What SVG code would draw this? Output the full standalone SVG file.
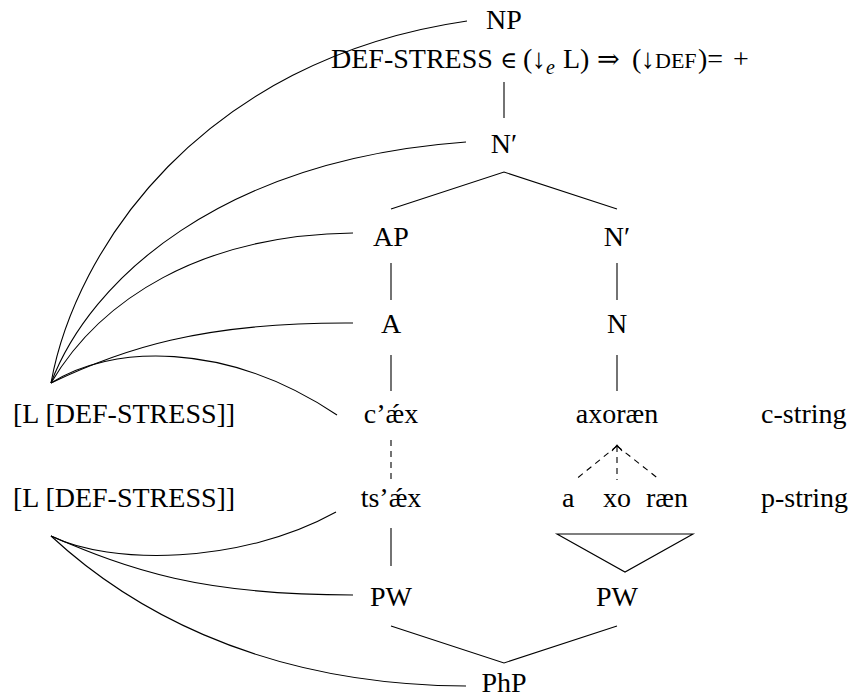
<svg xmlns="http://www.w3.org/2000/svg" width="852" height="699" viewBox="0 0 852 699">
<style>
text{font-family:"Liberation Serif","Times New Roman","DejaVu Serif",serif;font-size:28px;fill:#000}
.m{text-anchor:middle}
.ln{fill:none;stroke:#000;stroke-width:1.1}
.d{stroke-dasharray:6,5}
.sc{font-size:22px}
.sub{font-style:italic;font-size:20px}
</style>
<rect width="852" height="699" fill="#fff"/>
<g id="connectors">
<line class="ln" x1="504" y1="82" x2="504" y2="118"/>
<polyline class="ln" points="391,209 504,172 617,209"/>
<line class="ln" x1="391" y1="263" x2="391" y2="300"/>
<line class="ln" x1="617" y1="263" x2="617" y2="300"/>
<line class="ln" x1="391" y1="355" x2="391" y2="391"/>
<line class="ln" x1="617" y1="355" x2="617" y2="391"/>
<line class="ln d" x1="391" y1="440" x2="391" y2="482"/>
<line class="ln d" x1="617" y1="446" x2="575" y2="480"/>
<line class="ln d" x1="617" y1="446" x2="617" y2="480"/>
<line class="ln d" x1="617" y1="446" x2="660" y2="480"/>
<polyline class="ln" points="612,451 617,445 622,451"/>
<line class="ln" x1="391" y1="528" x2="391" y2="566"/>
<polygon class="ln" points="557,534 693,534 625,572"/>
<polyline class="ln" points="391,626 504,663 617,626"/>
<path class="ln" d="M51,383 C75,250 200,60 467,21"/>
<path class="ln" d="M51,383 C90,280 220,160 466,142"/>
<path class="ln" d="M51,383 C100,300 200,235 353,233"/>
<path class="ln" d="M51,383 C120,350 200,322 353,323"/>
<path class="ln" d="M51,383 C110,345 225,340 337,415"/>
<path class="ln" d="M51,536 C110,565 240,565 336,512"/>
<path class="ln" d="M51,536 C130,570 200,595 353,595"/>
<path class="ln" d="M51,536 C120,600 250,685 466,686"/>
</g>
<g id="n-np"><text class="m" x="504" y="29">NP</text></g>
<g id="n-constraint"><text y="68"><tspan x="500" font-size="23">∈</tspan><tspan x="331">DEF-STRESS</tspan><tspan x="523">(</tspan><tspan x="532">↓</tspan><tspan class="sub" x="546" y="74">e</tspan><tspan x="563" y="68">L)</tspan><tspan x="597" font-size="27">⇒</tspan><tspan x="632">(</tspan><tspan x="641">↓</tspan><tspan class="sc" x="655">DEF</tspan><tspan x="698">)=</tspan><tspan x="733">+</tspan></text></g>
<g id="n-nbar"><text class="m" x="504" y="153">N′</text></g>
<g id="n-ap"><text class="m" x="391" y="246">AP</text></g>
<g id="n-nbar2"><text class="m" x="617" y="246">N′</text></g>
<g id="n-a"><text class="m" x="391" y="333">A</text></g>
<g id="n-n"><text class="m" x="617" y="333">N</text></g>
<g id="n-l1"><text x="13" y="423">[L [DEF-STRESS]]</text></g>
<g id="n-caex"><text class="m" x="391" y="423">c’ǽx</text></g>
<g id="n-axoraen"><text class="m" x="617" y="423">axoræn</text></g>
<g id="n-cstring"><text x="761" y="423">c-string</text></g>
<g id="n-l2"><text x="13" y="507">[L [DEF-STRESS]]</text></g>
<g id="n-tsaex"><text class="m" x="391" y="507">ts’ǽx</text></g>
<g id="n-a1"><text x="562" y="507">a</text></g>
<g id="n-xo"><text x="603" y="507">xo</text></g>
<g id="n-raen"><text x="646" y="507">ræn</text></g>
<g id="n-pstring"><text x="761" y="507">p-string</text></g>
<g id="n-pw1"><text class="m" x="391" y="606">PW</text></g>
<g id="n-pw2"><text class="m" x="617" y="606">PW</text></g>
<g id="n-php"><text class="m" x="504" y="692">PhP</text></g>
</svg>
